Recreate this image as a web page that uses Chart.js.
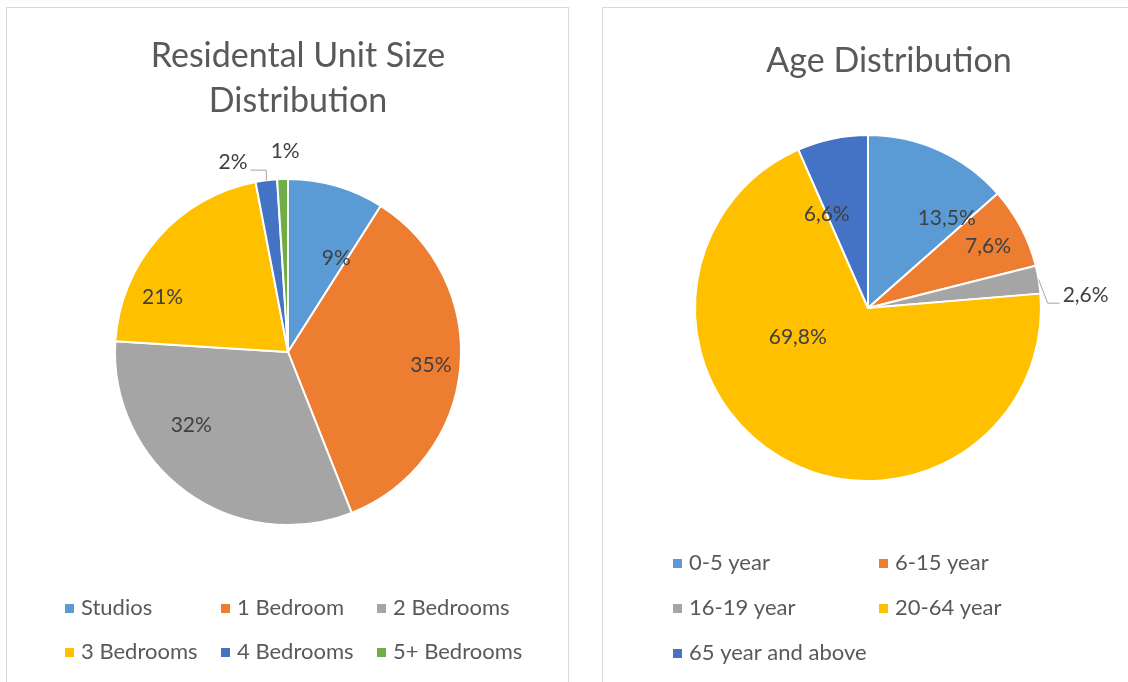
<!DOCTYPE html>
<html>
<head>
<meta charset="utf-8">
<script src="https://cdn.jsdelivr.net/npm/chart.js@4.4.1/dist/chart.umd.min.js"></script>
<style>
    html, body { margin: 0; padding: 0; background: #ffffff; overflow: hidden; }
    body { width: 1128px; height: 682px; position: relative; }
    .panel { position: absolute; border: 1px solid #d9d9d9; background: #ffffff; }
    canvas { position: absolute; left: 0; top: 0; }
</style>
</head>
<body>
<div class="panel" style="left:6px; top:7px; width:561px; height:700px;">
    <canvas id="unitChart" width="561" height="674"></canvas>
</div>
<div class="panel" style="left:602px; top:7px; width:600px; height:700px;">
    <canvas id="ageChart" width="526" height="674"></canvas>
</div>
<script>
// Chart data
const unitTitle = ['Residental Unit Size', 'Distribution'];
const unitLabels = ['Studios', '1 Bedroom', '2 Bedrooms', '3 Bedrooms', '4 Bedrooms', '5+ Bedrooms'];
const unitShares = [9, 35, 32, 21, 2, 1];
const unitText = ['9%', '35%', '32%', '21%', '2%', '1%'];

const ageTitle = ['Age Distribution'];
const ageLabels = ['0-5 year', '6-15 year', '16-19 year', '20-64 year', '65 year and above'];
const ageShares = [13.5, 7.6, 2.6, 69.8, 6.6];
const ageText = ['13,5%', '7,6%', '2,6%', '69,8%', '6,6%'];

const officeColors = ['#5b9bd5', '#ed7d31', '#a5a5a5', '#ffc000', '#4472c4', '#70ad47'];

// Where each data label sits: [angle shift from slice middle (deg), radius factor, leader style]
const unitSpots = [[11, 0.61], [0, 0.83], [17, 0.70], [-18, 0.79], [-9, 1.14, 'square'], [1, 1.16]];
const ageSpots = [[17, 0.69], [0.6, 0.78], [6.2, 1.26, 'slant'], [36.5, 0.44], [-12, 0.59]];

const FONT = 'Lato, "Open Sans", sans-serif';

// Draws title, data labels and a column legend around the pie
const decorPlugin = {
    id: 'decor',
    afterDraw(chart, args, opts) {
        const ctx = chart.ctx;
        const arcs = chart.getDatasetMeta(0).data;

        ctx.save();
        // title
        ctx.fillStyle = '#595959';
        ctx.font = opts.titleSize + 'px ' + FONT;
        ctx.textAlign = 'center';
        ctx.textBaseline = 'middle';
        opts.title.forEach((line, i) => {
            ctx.fillText(line, opts.titleX, opts.titleY + i * opts.titleGap);
        });

        // data labels
        ctx.font = opts.labelSize + 'px ' + FONT;
        ctx.fillStyle = '#404040';
        arcs.forEach((arc, i) => {
            const p = arc.getProps(['x', 'y', 'startAngle', 'endAngle', 'outerRadius'], true);
            const spot = opts.spots[i];
            const mid = (p.startAngle + p.endAngle) / 2;
            const ang = mid + spot[0] * Math.PI / 180;
            const lx = p.x + Math.cos(ang) * p.outerRadius * spot[1];
            const ly = p.y + Math.sin(ang) * p.outerRadius * spot[1];
            ctx.fillText(opts.text[i], lx, ly);

            if (spot[2]) {
                // leader from the slice edge to the label
                const ex = p.x + Math.cos(mid) * p.outerRadius;
                const ey = p.y + Math.sin(mid) * p.outerRadius;
                const half = ctx.measureText(opts.text[i]).width / 2;
                const side = lx > ex ? -1 : 1;
                const nearX = lx + side * (half + 3);
                const bendX = spot[2] === 'square' ? ex : nearX + side * 12;
                ctx.strokeStyle = '#a6a6a6';
                ctx.lineWidth = 1;
                ctx.beginPath();
                ctx.moveTo(ex, ey);
                ctx.lineTo(bendX, ly + 7.5);
                ctx.lineTo(nearX, ly + 7.5);
                ctx.stroke();
            }
        });

        // legend in columns
        ctx.font = opts.legendSize + 'px ' + FONT;
        ctx.textAlign = 'left';
        chart.data.labels.forEach((label, i) => {
            const col = i % opts.cols;
            const row = Math.floor(i / opts.cols);
            const x = opts.legendX + col * opts.colGap;
            const y = opts.legendY + row * opts.rowGap;
            ctx.fillStyle = chart.data.datasets[0].backgroundColor[i];
            ctx.fillRect(x, y - 4, 9, 9);
            ctx.fillStyle = '#595959';
            ctx.fillText(label, x + 16, y);
        });
        ctx.restore();
    }
};

// Build one pie chart with a fixed plot box
function makePie(canvasId, labels, values, colors, padding, decor) {
    const ctx = document.getElementById(canvasId).getContext('2d');
    return new Chart(ctx, {
        type: 'pie',
        data: {
            labels: labels,
            datasets: [{
                data: values,
                backgroundColor: colors.slice(0, values.length),
                borderColor: '#ffffff',
                borderWidth: 2
            }]
        },
        options: {
            responsive: false,
            animation: false,
            events: [],
            devicePixelRatio: 1,
            layout: { padding: padding },
            plugins: {
                legend: { display: false },
                tooltip: { enabled: false },
                decor: decor
            }
        },
        plugins: [decorPlugin]
    });
}

makePie('unitChart', unitLabels, unitShares, officeColors,
    { left: 107, right: 106, top: 170, bottom: 156 },
    {
        title: unitTitle, titleX: 291, titleY: 48, titleGap: 45, titleSize: 34,
        text: unitText, spots: unitSpots, labelSize: 21,
        legendX: 58, legendY: 600, cols: 3, colGap: 156, rowGap: 44, legendSize: 22
    });

makePie('ageChart', ageLabels, ageShares, officeColors,
    { left: 91, right: 87, top: 126, bottom: 200 },
    {
        title: ageTitle, titleX: 286, titleY: 53, titleGap: 45, titleSize: 34,
        text: ageText, spots: ageSpots, labelSize: 21,
        legendX: 70, legendY: 555, cols: 2, colGap: 206, rowGap: 45, legendSize: 22
    });
</script>
</body>
</html>
